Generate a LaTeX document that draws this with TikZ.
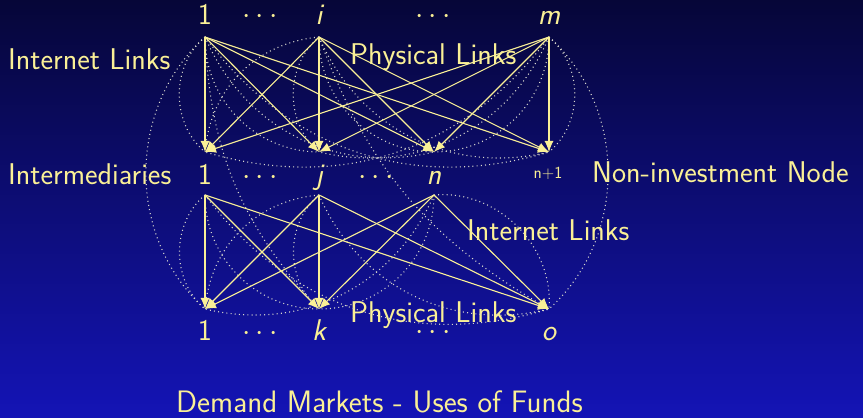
\documentclass[tikz,border=0pt]{standalone}
\usepackage{fix-cm}
\usepackage{tikz}
\usetikzlibrary{arrows.meta}

\definecolor{bgtop}{RGB}{6,6,56}
\definecolor{bgbot}{RGB}{20,20,182}
\definecolor{linkyellow}{RGB}{250,240,150}
\definecolor{dotgray}{RGB}{215,215,205}

\begin{document}
\begin{tikzpicture}[
		x=1pt, y=1pt,
		every node/.style={text=linkyellow, inner sep=0pt, anchor=base, font=\sffamily\fontsize{30}{34}\selectfont},
		idx/.style={font=\sffamily\itshape\fontsize{30}{34}\selectfont},
		tag/.style={anchor=base west},
		physlink/.style={-{Latex[length=11pt,width=9pt]}, color=linkyellow, line width=1.1pt},
		inetlink/.style={color=dotgray, line width=1.1pt, dash pattern=on 1pt off 3.2pt},
		]
		% Background
		\shade[top color=bgtop, bottom color=bgbot] (0,0) rectangle (863,418);
		\useasboundingbox (0,0) rectangle (863,418);
		
		% Top layer: sources of funds
		\node (src1) at (205,393) {1};
		\node (srcdotsa) at (260,394) {$\smash{\cdots}$};
		\node[idx] (srci) at (319,393) {i};
		\node (srcdotsb) at (433,394) {$\smash{\cdots}$};
		\node[idx] (srcm) at (549,393) {m};
		
		% Middle layer: intermediaries
		\node (mid1) at (205,233) {1};
		\node (middotsa) at (260,233) {$\smash{\cdots}$};
		\node[idx] (midj) at (319,233) {j};
		\node (middotsb) at (376,233) {$\smash{\cdots}$};
		\node[idx] (midn) at (434,233) {n};
		\node[font=\sffamily\fontsize{17}{19}\selectfont] (midnone) at (548,239) {n+1};
		
		% Bottom layer: demand markets
		\node (dem1) at (205,77) {1};
		\node (demdotsa) at (260,77) {$\smash{\cdots}$};
		\node[idx] (demk) at (319,77) {k};
		\node (demdotsb) at (433,78) {$\smash{\cdots}$};
		\node[idx] (demo) at (549,77) {o};
		
		% Texts
		\node[tag] (inettop) at (8,348) {Internet Links};
		\node[tag] (phystop) at (350,353) {Physical Links};
		\node[tag] (intermed) at (8,233) {Intermediaries};
		\node[tag] (noninv) at (592,235) {Non-investment Node};
		\node[tag] (inetbot) at (467,177) {Internet Links};
		\node[tag] (physbot) at (350,95) {Physical Links};
		\node[tag, font=\sffamily\fontsize{31}{34}\selectfont] (markets) at (176,5) {Demand Markets - Uses of Funds};
		
		% Link end points
		\coordinate (t1) at (205,381);
		\coordinate (ti) at (319,381);
		\coordinate (tm) at (549,381);
		\coordinate (u1) at (205,266);
		\coordinate (uj) at (319,266);
		\coordinate (un) at (434,266);
		\coordinate (un1) at (549,266);
		\coordinate (l1) at (205,223);
		\coordinate (lj) at (319,223);
		\coordinate (ln) at (434,223);
		\coordinate (b1) at (205,109);
		\coordinate (bk) at (319,109);
		\coordinate (bo) at (549,109);
		
		% Internet links (dotted arcs)
		\path (t1) edge[inetlink, bend right=50] (u1) edge[inetlink, bend right=45] (uj) edge[inetlink, bend right=40] (un) edge[inetlink, bend right=35] (un1);
		\path (ti) edge[inetlink, bend right=40] (u1) edge[inetlink, bend right=50] (uj) edge[inetlink, bend right=45] (un) edge[inetlink, bend right=40] (un1);
		\path (tm) edge[inetlink, bend left=35] (u1) edge[inetlink, bend left=40] (uj) edge[inetlink, bend left=45] (un) edge[inetlink, bend left=50] (un1);
		\path (l1) edge[inetlink, bend right=50] (b1) edge[inetlink, bend right=45] (bk) edge[inetlink, bend right=35] (bo);
		\path (lj) edge[inetlink, bend right=40] (b1) edge[inetlink, bend right=50] (bk) edge[inetlink, bend right=40] (bo);
		\path (ln) edge[inetlink, bend left=40] (b1) edge[inetlink, bend left=45] (bk) edge[inetlink, bend left=50] (bo);
		\path (t1) edge[inetlink, bend right=48] (b1) edge[inetlink, bend right=20] (bk);
		\path (ti) edge[inetlink, bend right=20] (bo);
		\path (tm) edge[inetlink, bend left=48] (bo);
		
		% Physical links: sources -> intermediaries
		\path (t1) edge[physlink] (u1) edge[physlink] (uj) edge[physlink] (un) edge[physlink] (un1);
		\path (ti) edge[physlink] (u1) edge[physlink] (uj) edge[physlink] (un) edge[physlink] (un1);
		\path (tm) edge[physlink] (u1) edge[physlink] (uj) edge[physlink] (un) edge[physlink] (un1);
		
		% Physical links: intermediaries -> demand markets
		\path (l1) edge[physlink] (b1) edge[physlink] (bk) edge[physlink] (bo);
		\path (lj) edge[physlink] (b1) edge[physlink] (bk) edge[physlink] (bo);
		\path (ln) edge[physlink] (b1) edge[physlink] (bk) edge[physlink] (bo);
		
	\end{tikzpicture}
\end{document}
